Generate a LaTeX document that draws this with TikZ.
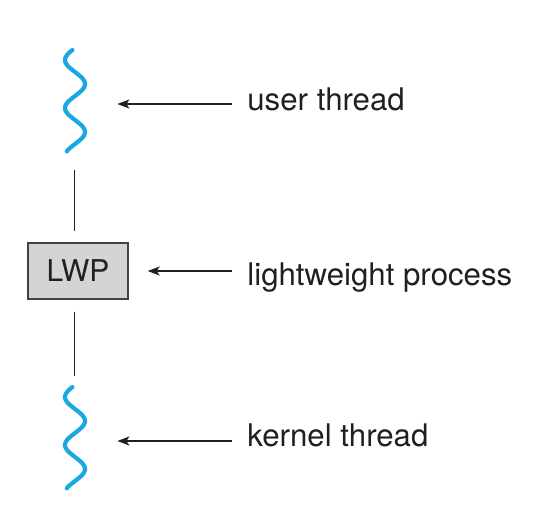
\documentclass[tikz,border=0pt]{standalone}
\usepackage{fontspec}
\setmainfont{TeX Gyre Heros}
\usetikzlibrary{arrows.meta}
\definecolor{threadblue}{HTML}{1BA7E1}
\definecolor{boxgray}{HTML}{D4D4D4}
\definecolor{inkgray}{HTML}{231F20}

\begin{document}
\begin{tikzpicture}[x=0.5pt,y=-0.5pt,
  thread/.style={minimum width=24pt,minimum height=54pt,inner sep=0pt},
  wave/.style={draw=threadblue,line width=2.1pt,line cap=round},
  lwpbox/.style={draw=inkgray!85,fill=boxgray,line width=0.7pt,minimum width=50pt,minimum height=28pt,inner sep=0pt,text=inkgray,font=\fontsize{15}{17}\selectfont},
  tag/.style={anchor=base west,inner xsep=7.5pt,inner ysep=0pt,text=inkgray,font=\fontsize{15.6}{18}\selectfont},
  ptr/.style={-{Stealth[length=6pt,width=4.5pt,inset=1.5pt]},draw=inkgray,line width=0.6pt,shorten >=9.5pt},
  link/.style={draw=inkgray,line width=0.5pt,shorten <=6pt,shorten >=5.5pt}]
  \useasboundingbox (0,0) rectangle (541,531);

  \node[thread] (uthr) at (74,104) {};
  \node[lwpbox] (lwp) at (78,271) {LWP};
  \node[thread] (kthr) at (74,441) {};

  \node[tag] (ulab) at (232,110) {user thread};
  \node[tag] (llab) at (232,285) {lightweight process};
  \node[tag] (klab) at (232,446) {kernel thread};

  \foreach \t in {uthr,kthr}
    \draw[wave,shift={(\t.center)}] plot[domain=-165:595,samples=90,smooth]
      ({1+10*sin(\x)},{-44+(\x+90)/7.5});

  \draw[link] (uthr.south) -- (uthr.south |- lwp.north);
  \draw[link] (uthr.south |- lwp.south) -- (kthr.north);

  \draw[ptr] (ulab.west |- uthr) -- (uthr.east);
  \draw[ptr] (llab.west |- lwp) -- (lwp.east);
  \draw[ptr] (klab.west |- kthr) -- (kthr.east);
\end{tikzpicture}
\end{document}
